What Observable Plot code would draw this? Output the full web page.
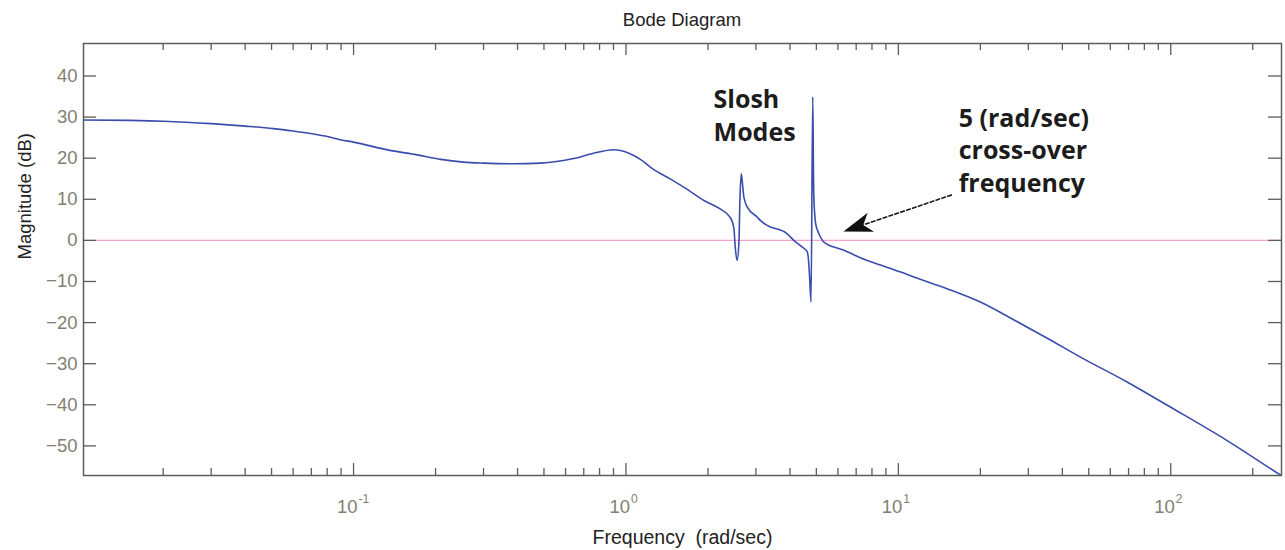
<!DOCTYPE html>
<html>
<head>
<meta charset="utf-8">
<script src="https://cdn.jsdelivr.net/npm/d3@7"></script>
<script src="https://cdn.jsdelivr.net/npm/@observablehq/plot@0.6"></script>
<style>
  html, body { margin: 0; padding: 0; background: #ffffff; }
  #title { height: 40px; line-height: 40px; margin-left: 83px; width: 1198px; text-align: center;
           font-family: "Liberation Sans", Arial, sans-serif; font-size: 18.5px; color: #222; }
  #chart svg { display: block; }
</style>
</head>
<body>
<div id="title">Bode Diagram</div>
<div id="chart"></div>
<script>
// ---- data ----
const freq = [0.0102, 0.015, 0.0201, 0.0301, 0.0401, 0.0508, 0.0601, 0.0695, 0.0822, 0.0895, 0.1,
  0.136, 0.171, 0.209, 0.253, 0.3, 0.386, 0.486, 0.642, 0.76, 0.9, 0.955, 1.04, 1.13, 1.266, 1.458,
  1.679, 1.933, 2.225, 2.42, 2.49, 2.52, 2.56, 2.60, 2.62, 2.65, 2.67, 2.71, 2.79, 3.03, 3.12, 3.30,
  3.91, 4.13, 4.43, 4.63, 4.70, 4.73, 4.78, 4.85, 4.89, 4.97, 5.11, 5.33, 6.31, 7.69, 8.6, 10.2, 11.4,
  15.1, 20.0, 26.5, 35.2, 46.6, 69.4, 100, 161, 255];
const magnitude = [29.3, 29.2, 29.0, 28.4, 27.8, 27.2, 26.6, 26.0, 25.1, 24.5, 23.9,
  21.9, 20.8, 19.7, 19.05, 18.8, 18.65, 18.8, 19.9, 21.2, 22.05, 21.85, 21.0, 19.7, 17.2, 14.9,
  12.4, 9.7, 7.6, 5.5, 3.0, -1.8, -4.9, 0, 9.7, 16.2, 14.6, 10.5, 8.1, 5.7, 4.8, 3.65,
  1.6, 0, -1.6, -2.8, -6.5, -9.7, -15, 34.9, 11.4, 4.06, 1.6, -0.4, -2.4, -4.9, -6.0, -7.7, -8.9,
  -11.75, -15, -19.3, -23.8, -28.4, -34.5, -40.6, -48.7, -57.3];

const yTicks = [-50, -40, -30, -20, -10, 0, 10, 20, 30, 40];
const xMajorTicks = [0.1, 1, 10, 100];
const xTickBase = ["10", "10", "10", "10"];
const xTickExp = ["-1", "0", "1", "2"];
const xMinorTicks = [0.02, 0.03, 0.04, 0.05, 0.06, 0.07, 0.08, 0.09,
  0.2, 0.3, 0.4, 0.5, 0.6, 0.7, 0.8, 0.9,
  2, 3, 4, 5, 6, 7, 8, 9,
  20, 30, 40, 50, 60, 70, 80, 90, 200];
const referenceLevel = [0];

const noteText = ["Slosh\nModes", "5 (rad/sec)\ncross-over\nfrequency"];
const noteFreq = [2.097, 16.65];
const noteDb = [24.3, 11.75];
const arrowFromFreq = 15.79, arrowFromDb = 10.95;
const arrowToFreq = 6.313, arrowToDb = 2.02;

const xLabel = "Frequency  (rad/sec)";
const yLabel = "Magnitude (dB)";

// ---- build ----
const curve = freq.map((f, i) => ({f, m: magnitude[i]}));
const notes = noteText.map((t, i) => ({t, f: noteFreq[i], m: noteDb[i]}));
const ticksLabels = xMajorTicks.map((v, i) => ({v, b: xTickBase[i], e: xTickExp[i]}));

const W = 1285, H = 510, mL = 83, mR = 4, mT = 3, mB = 75;
const plotH = H - mT - mB, plotW = W - mL - mR;
const axisColor = "#5c5c5c";
const labelColor = "#847e72";
const font = "'Liberation Sans', Arial, sans-serif";

function arrowMark(index, scales) {
  const x1 = scales.x(arrowFromFreq), y1 = scales.y(arrowFromDb);
  const x2 = scales.x(arrowToFreq), y2 = scales.y(arrowToDb);
  const dx = x2 - x1, dy = y2 - y1, len = Math.hypot(dx, dy);
  const ux = dx / len, uy = dy / len, nx = -uy, ny = ux;
  const L = 29, w = 10, notch = 0.72 * L;
  const bx = x2 - L * ux, by = y2 - L * uy;
  const cx = x2 - notch * ux, cy = y2 - notch * uy;
  const g = d3.create("svg:g");
  g.append("line").attr("x1", x1).attr("y1", y1).attr("x2", cx).attr("y2", cy)
    .attr("stroke", "#1a1a1a").attr("stroke-width", 1.6).attr("stroke-dasharray", "5 1.2");
  g.append("path")
    .attr("d", `M${x2},${y2}L${bx + w * nx},${by + w * ny}L${cx},${cy}L${bx - w * nx},${by - w * ny}Z`)
    .attr("fill", "#111");
  return g.node();
}

const chart = Plot.plot({
  width: W, height: H,
  marginLeft: mL, marginRight: mR, marginTop: mT, marginBottom: mB,
  x: {type: "log", domain: [0.0102, 255], axis: null},
  y: {domain: [-57.2, 47.9]},
  style: {fontFamily: font, background: "#ffffff", overflow: "visible"},
  marks: [
    Plot.ruleY(referenceLevel, {stroke: "#f4a3cf", strokeWidth: 1.3}),
    Plot.line(curve, {x: "f", y: "m", stroke: "#3b4cac", strokeWidth: 1.6, curve: "monotone-x", clip: true}),
    Plot.frame({stroke: axisColor, strokeWidth: 1.5}),
    // inward ticks on all sides
    Plot.ruleX(xMajorTicks, {x: d => d, insetBottom: plotH - 12, stroke: axisColor, strokeWidth: 1.3}),
    Plot.ruleX(xMajorTicks, {x: d => d, insetTop: plotH - 12, stroke: axisColor, strokeWidth: 1.3}),
    Plot.ruleX(xMinorTicks, {x: d => d, insetBottom: plotH - 7, stroke: axisColor, strokeWidth: 1.3}),
    Plot.ruleX(xMinorTicks, {x: d => d, insetTop: plotH - 7, stroke: axisColor, strokeWidth: 1.3}),
    Plot.ruleY(yTicks, {y: d => d, insetRight: plotW - 13, stroke: axisColor, strokeWidth: 1.3}),
    Plot.ruleY(yTicks, {y: d => d, insetLeft: plotW - 13, stroke: axisColor, strokeWidth: 1.3}),
    Plot.axisY(yTicks, {tickSize: 0, tickPadding: 6, fontSize: 18.5, color: labelColor, label: null}),
    // x tick labels 10^k
    Plot.text(ticksLabels, {x: "v", text: "b", frameAnchor: "bottom", textAnchor: "end",
      lineAnchor: "bottom", dx: 4, dy: 37, fontSize: 18.5, fill: labelColor}),
    Plot.text(ticksLabels, {x: "v", text: "e", frameAnchor: "bottom", textAnchor: "start",
      lineAnchor: "bottom", dx: 5, dy: 27, fontSize: 12, fill: labelColor}),
    // axis labels
    Plot.text([xLabel], {frameAnchor: "bottom", dy: 68, lineAnchor: "bottom", fontSize: 19.5, fill: "#222"}),
    Plot.text([yLabel], {frameAnchor: "left", rotate: -90, dx: -58, fontSize: 18.5, fill: "#222"}),
    // annotations
    Plot.text(notes, {x: "f", y: "m", text: "t", textAnchor: "start", lineAnchor: "bottom",
      lineHeight: 1.31, fontSize: 25, fontWeight: 700, fontFamily: "'Open Sans', sans-serif", fill: "#1c1c1c"}),
    arrowMark
  ]
});
document.getElementById("chart").appendChild(chart);
</script>
</body>
</html>
